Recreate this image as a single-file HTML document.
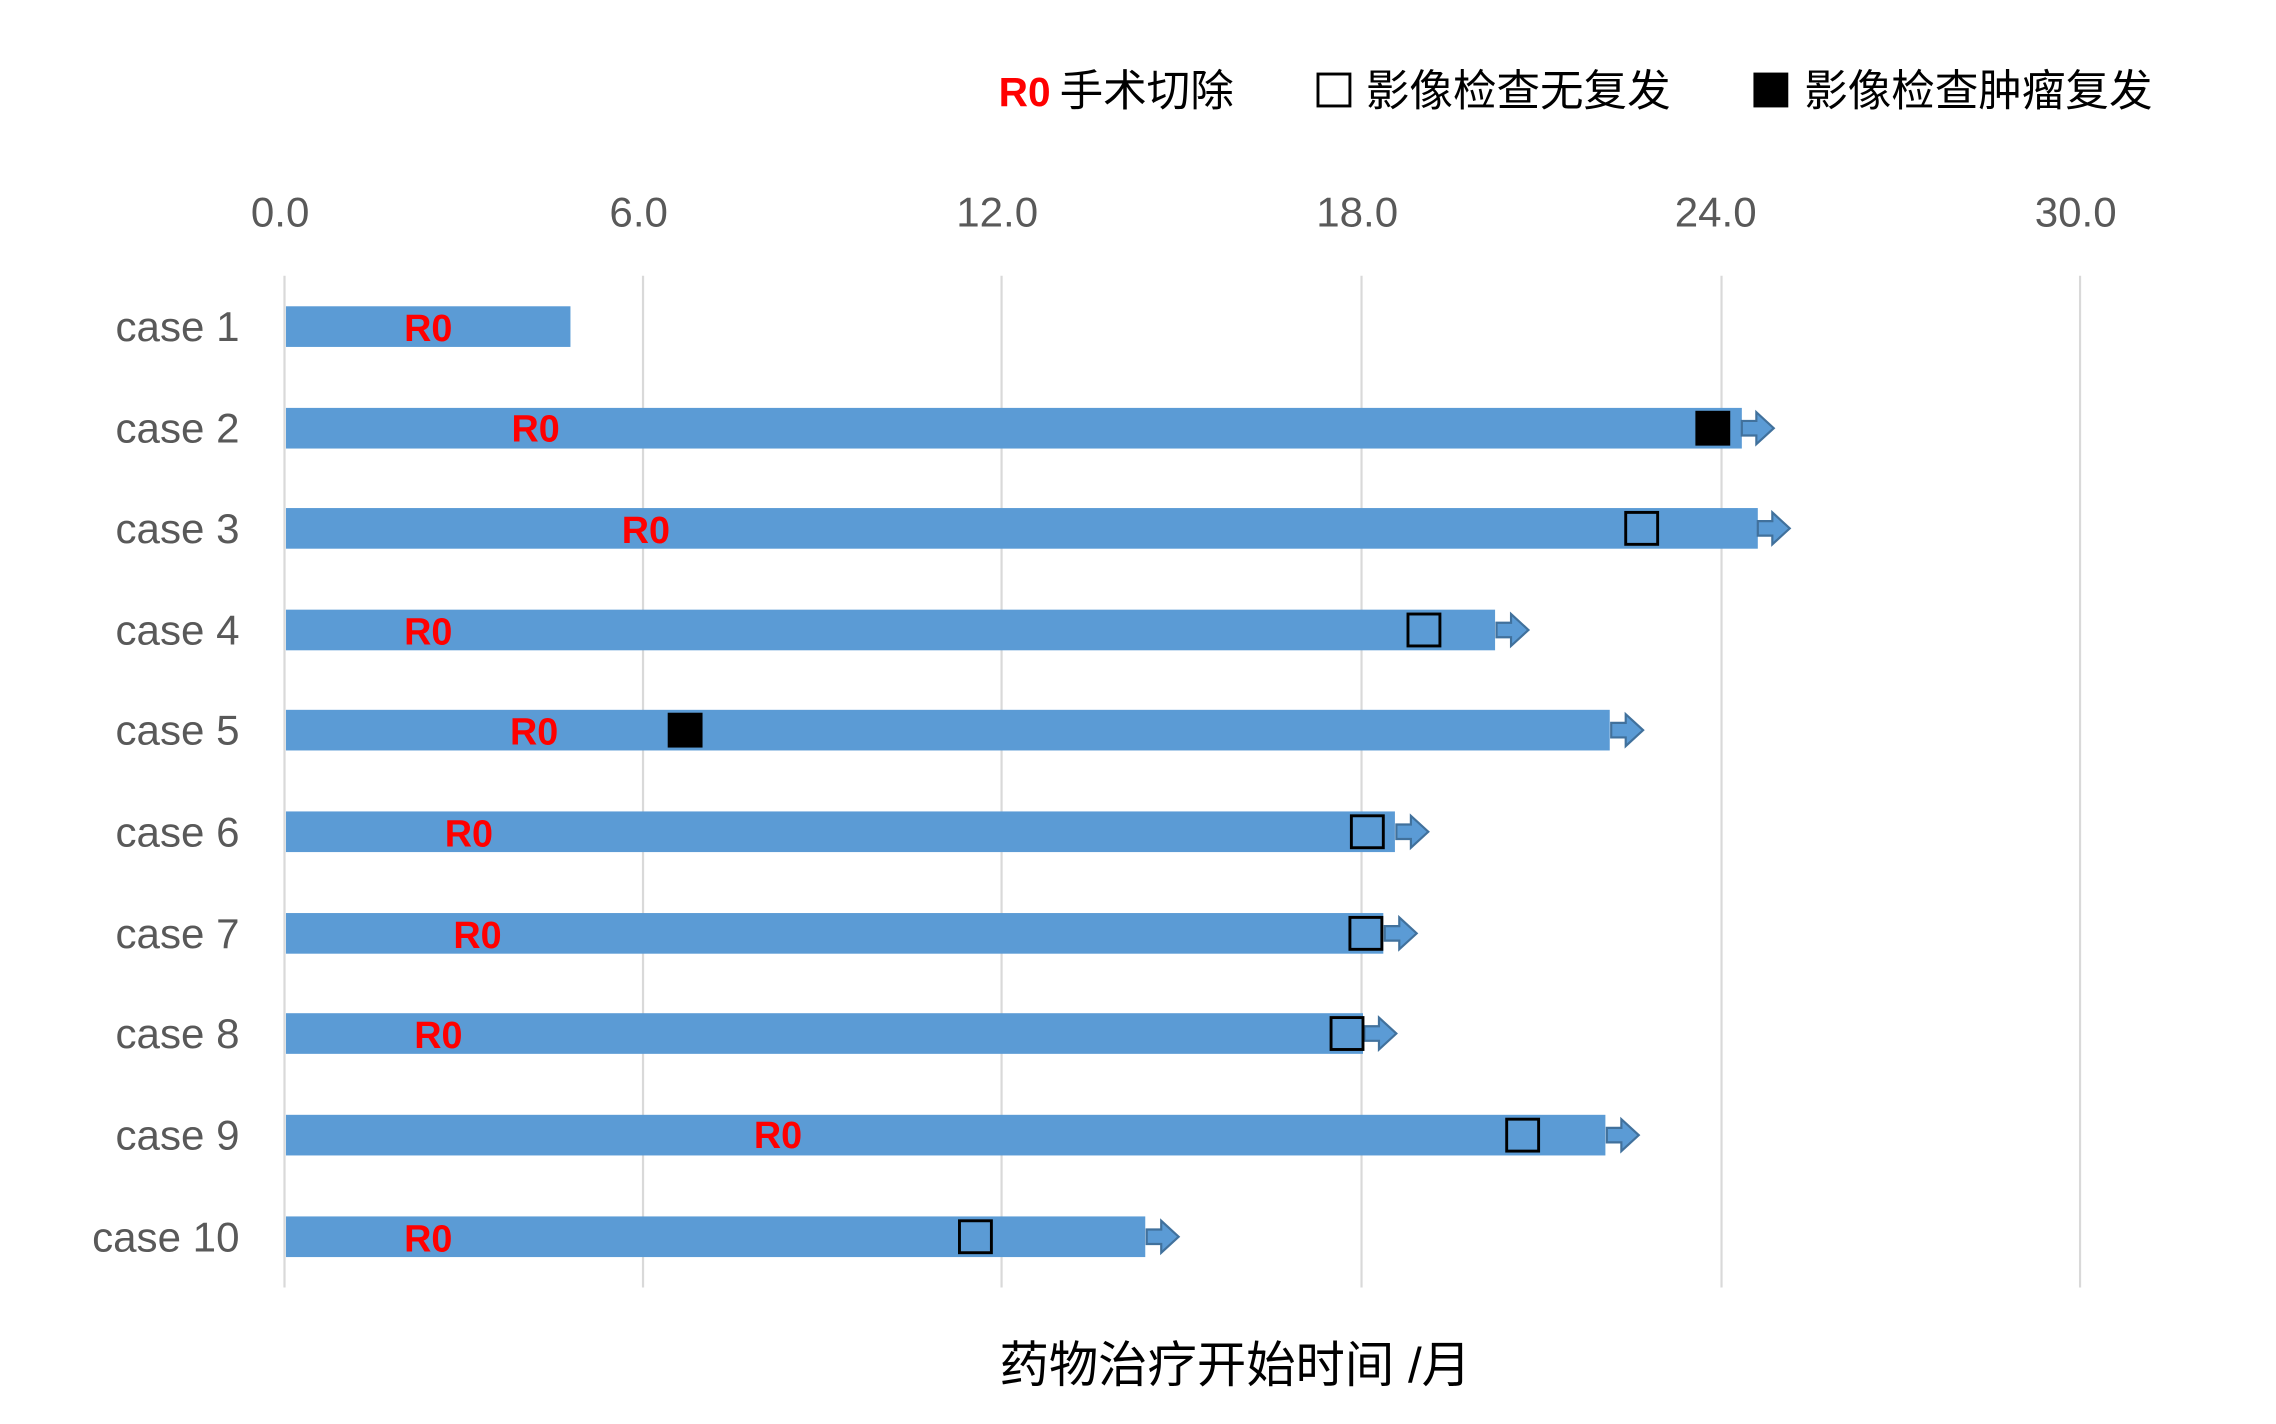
<!DOCTYPE html>
<html><head><meta charset="utf-8"><style>html,body{margin:0;padding:0;background:#fff}svg{display:block}</style></head>
<body>
<svg width="2276" height="1424" viewBox="0 0 1568 981" preserveAspectRatio="none" xmlns="http://www.w3.org/2000/svg" font-family="'Liberation Sans','Noto Sans CJK SC',sans-serif">
<g stroke="#d9d9d9" stroke-width="1.5">
<line x1="196" y1="190" x2="196" y2="887"/><line x1="443" y1="190" x2="443" y2="887"/><line x1="690" y1="190" x2="690" y2="887"/><line x1="938" y1="190" x2="938" y2="887"/><line x1="1186" y1="190" x2="1186" y2="887"/><line x1="1433" y1="190" x2="1433" y2="887"/>
</g>
<g fill="#595959" font-size="29" text-anchor="middle">
<text x="193" y="156">0.0</text><text x="440" y="156">6.0</text><text x="687" y="156">12.0</text><text x="935" y="156">18.0</text><text x="1182" y="156">24.0</text><text x="1430" y="156">30.0</text>
</g>
<g fill="#595959" font-size="29" text-anchor="end">
<text x="165" y="235">case 1</text><text x="165" y="305">case 2</text><text x="165" y="374">case 3</text><text x="165" y="444">case 4</text><text x="165" y="513">case 5</text><text x="165" y="583">case 6</text><text x="165" y="653">case 7</text><text x="165" y="722">case 8</text><text x="165" y="792">case 9</text><text x="165" y="862">case 10</text>
</g>
<g fill="#5b9bd5">
<rect x="197" y="211" width="196" height="28"/>
<rect x="197" y="281" width="1003" height="28"/>
<rect x="197" y="350" width="1014" height="28"/>
<rect x="197" y="420" width="833" height="28"/>
<rect x="197" y="489" width="912" height="28"/>
<rect x="197" y="559" width="764" height="28"/>
<rect x="197" y="629" width="756" height="28"/>
<rect x="197" y="698" width="742" height="28"/>
<rect x="197" y="768" width="909" height="28"/>
<rect x="197" y="838" width="592" height="28"/>
</g>
<defs><path id="ar" d="M0,-5 L10,-5 L10,-11 L22,0 L10,11 L10,5 L0,5 Z" fill="#5b9bd5" stroke="#41719c" stroke-width="1.5"/></defs>
<use href="#ar" x="1200" y="295"/><use href="#ar" x="1211" y="364"/><use href="#ar" x="1031" y="434"/><use href="#ar" x="1110" y="503"/><use href="#ar" x="962" y="573"/><use href="#ar" x="954" y="643"/><use href="#ar" x="940" y="712"/><use href="#ar" x="1107" y="782"/><use href="#ar" x="790" y="852"/>
<g stroke="#000" stroke-width="2" fill="none">
<rect x="1120" y="353" width="22" height="22"/><rect x="970" y="423" width="22" height="22"/><rect x="931" y="562" width="22" height="22"/><rect x="930" y="632" width="22" height="22"/><rect x="917" y="701" width="22" height="22"/><rect x="1038" y="771" width="22" height="22"/><rect x="661" y="841" width="22" height="22"/>
</g>
<rect x="1168" y="283" width="24" height="24" fill="#000"/>
<rect x="460" y="491" width="24" height="24" fill="#000"/>
<g fill="#ff0000" font-size="26" font-weight="bold" text-anchor="middle">
<text x="295" y="235">R0</text><text x="369" y="304">R0</text><text x="445" y="374">R0</text><text x="295" y="444">R0</text><text x="368" y="513">R0</text><text x="323" y="583">R0</text><text x="329" y="653">R0</text><text x="302" y="722">R0</text><text x="536" y="791">R0</text><text x="295" y="862">R0</text>
</g>
<text x="688" y="73" fill="#ff0000" font-size="28" font-weight="bold">R0</text>
<text x="730" y="73" fill="#000" font-size="30">手术切除</text>
<rect x="908" y="51" width="22" height="22" fill="none" stroke="#000" stroke-width="2"/>
<text x="941" y="73" fill="#000" font-size="30">影像检查无复发</text>
<rect x="1208" y="50" width="24" height="24" fill="#000"/>
<text x="1243" y="73" fill="#000" font-size="30">影像检查肿瘤复发</text>
<text x="851" y="952" fill="#000" font-size="34" text-anchor="middle">药物治疗开始时间 /月</text>
</svg>
</body></html>
